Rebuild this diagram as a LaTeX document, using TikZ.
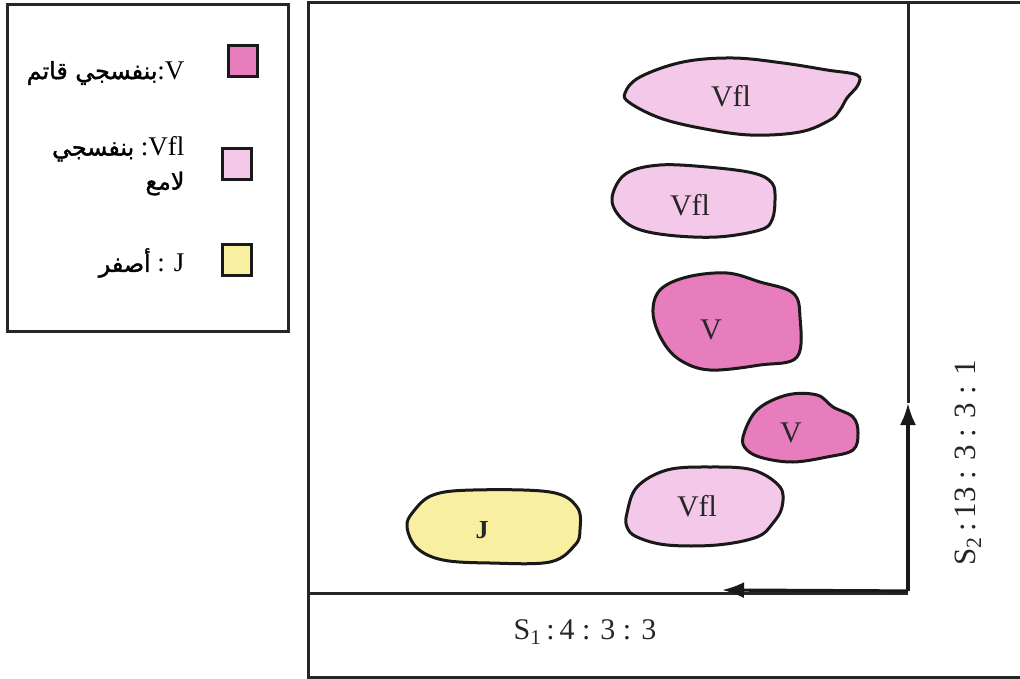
\documentclass[tikz,border=0pt]{standalone}
\usepackage{fontspec}
\setmainfont{Liberation Serif}
\newfontfamily\arabicfont[Script=Arabic,FakeBold=1.5,Scale=0.88]{DejaVu Sans}
\TeXXeTstate=1
\usetikzlibrary{arrows.meta}
\definecolor{vdark}{RGB}{232,125,190}
\definecolor{vlight}{RGB}{243,200,232}
\definecolor{jyel}{RGB}{248,240,160}
\tikzset{
  frame/.style={line width=3pt, black!85},
  blob/.style={line width=3pt, black!90},
  blobtext/.style={font=\fontsize{30}{34}\selectfont, text=black!85},
  legsq/.style={draw=black!90, line width=2.6pt, minimum width=29pt, minimum height=31pt, inner sep=0pt},
  legtext/.style={font=\fontsize{27}{34}\selectfont, text=black, anchor=east, align=right},
  axis/.style={line width=3.2pt, black!90},
  tipstyle/.style={-{Latex[length=22pt,width=16pt]}}
}
\begin{document}
\begin{tikzpicture}[x=1pt,y=-1pt]
\useasboundingbox (0,0) rectangle (1020,679);
% legend box
\draw[frame] (7,5) rectangle (288,331);
\node[legsq, fill=vdark] (sqV) at (243,61) {};
\node[legsq, fill=vlight] (sqVfl) at (237,164) {};
\node[legsq, fill=jyel] (sqJ) at (237,260) {};
\node[legtext] (lV) at (188,73) {{\arabicfont\beginR بنفسجي قاتم\endR}:V};
\node[legtext] (lVfl) at (188,166) {{\arabicfont\beginR بنفسجي\endR} :Vfl\\{\arabicfont\beginR لامع\endR}};
\node[legtext] (lJ) at (188,263) {{\arabicfont\beginR أصفر\endR} : J};
% main frame
\draw[frame] (1020,3) -- (308,3) -- (308,677) -- (1020,677);
\coordinate (corner) at (908,591);
\coordinate (top) at (908,3);
\coordinate (left) at (308,593);
\coordinate (tipH) at (722,590);
\coordinate (tipV) at (908,403);
\draw[frame] (left) -- (908,593);
\draw[frame] (tipV) -- (top);
\draw[axis, tipstyle] (corner) -- (tipH);
\draw[axis, tipstyle] (corner) -- (tipV);
\node[font=\fontsize{30}{34}\selectfont, text=black!85] (s1) at (585,632) {S\textsubscript{1}\,:\,4 : 3 : 3};
\node[font=\fontsize{31}{34}\selectfont, text=black!85, rotate=90] (s2) at (968,463) {S\textsubscript{2}\,:\,13 : 3 : 3 : 1};
% blobs
\draw[blob, fill=vlight] plot[smooth cycle, tension=0.6] coordinates {(625,93) (640,77) (683,62) (733,58) (783,63) (827,70) (857,75) (858,85) (847,98) (840,110) (830,120) (800,132) (750,135) (700,128) (660,118) (630,103)};
\node[blobtext] (b1) at (731,96) {Vfl};
\draw[blob, fill=vlight] plot[smooth cycle, tension=0.6] coordinates {(613,193) (627,173) (660,165) (707,167) (753,173) (772,183) (775,200) (772,220) (760,230) (717,237) (667,235) (633,227) (615,210)};
\node[blobtext] (b2) at (690,205) {Vfl};
\draw[blob, fill=vdark] plot[smooth cycle, tension=0.6] coordinates {(653,313) (660,290) (687,277) (727,273) (760,282) (793,293) (800,317) (797,357) (760,365) (710,370) (680,360) (662,340)};
\node[blobtext] (b3) at (711,330) {V};
\draw[blob, fill=vdark] plot[smooth cycle, tension=0.6] coordinates {(743,437) (757,410) (787,395) (817,395) (833,407) (853,417) (858,433) (853,450) (827,457) (793,462) (763,458) (747,450)};
\node[blobtext] (b4) at (791,433) {V};
\draw[blob, fill=vlight] plot[smooth cycle, tension=0.6] coordinates {(627,513) (637,487) (667,470) (710,467) (753,470) (780,487) (782,507) (773,523) (757,537) (717,545) (667,545) (637,537) (627,527)};
\node[blobtext] (b5) at (697,506) {Vfl};
\draw[blob, fill=jyel] plot[smooth cycle, tension=0.6] coordinates {(407,527) (413,512) (433,495) (473,490) (550,492) (577,507) (580,530) (575,545) (550,562) (490,563) (443,560) (417,548)};
\node[blobtext, font=\bfseries\fontsize{26}{30}\selectfont] (b6) at (482,530) {J};
\end{tikzpicture}
\end{document}
